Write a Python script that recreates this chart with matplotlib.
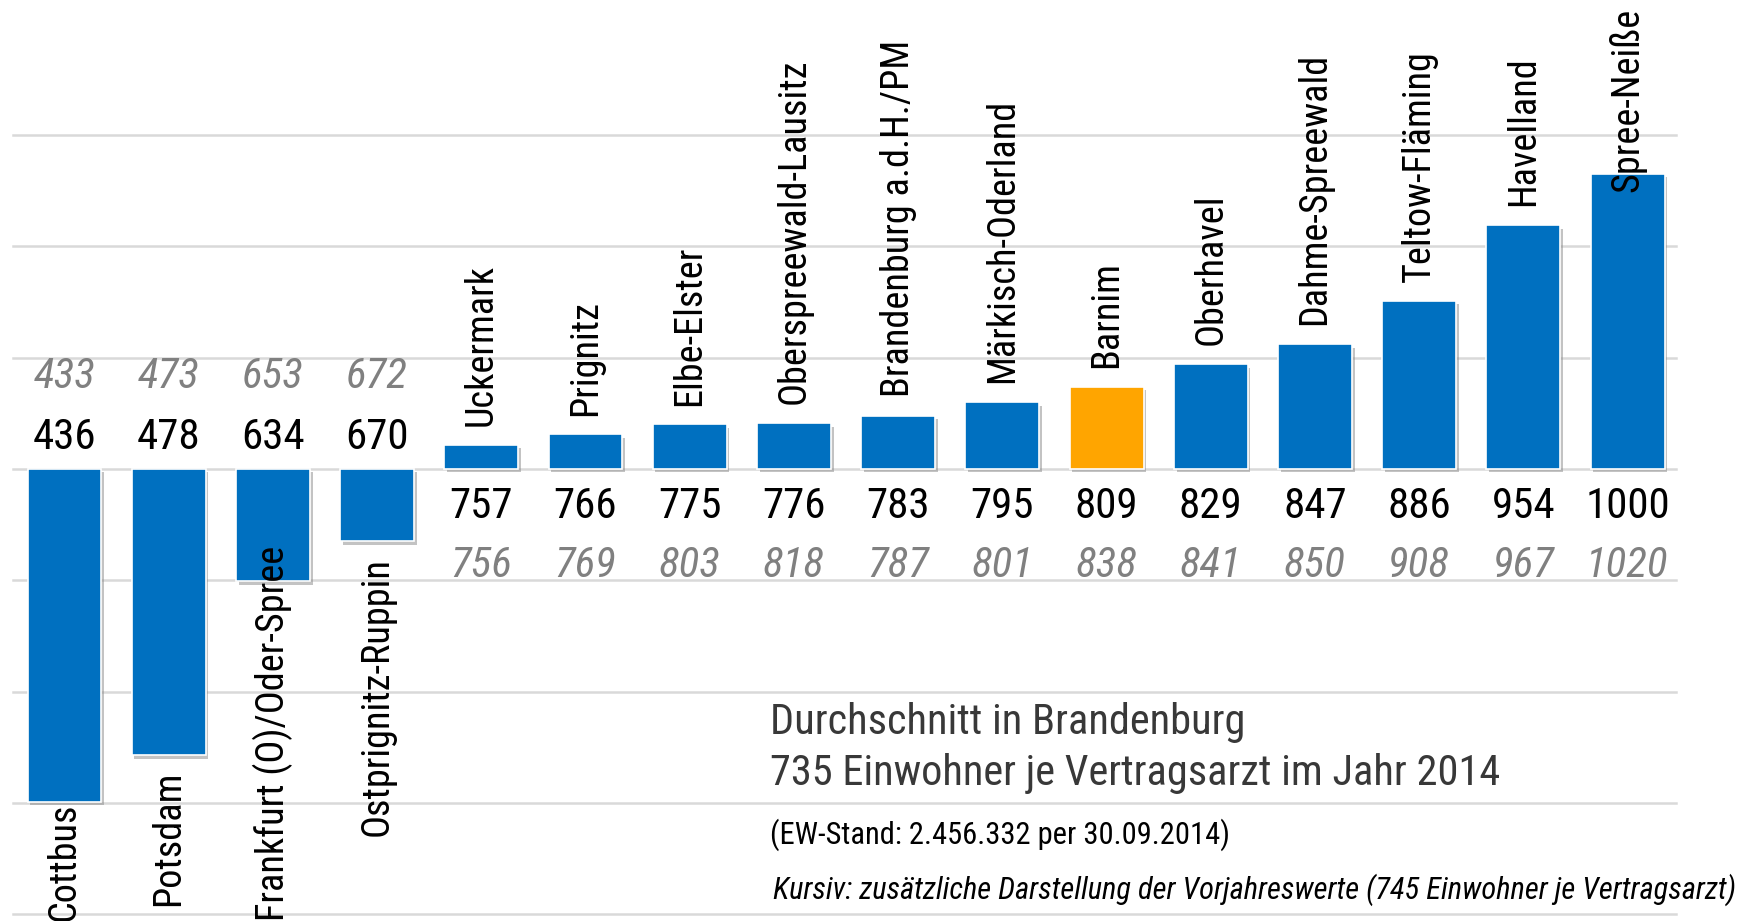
#
# Einwohner je Vertragsarzt in Brandenburg 2014 (Vorjahr kursiv)

import numpy as np
import matplotlib
matplotlib.use("Agg")
import matplotlib.pyplot as plt
import matplotlib.patheffects as pe
from matplotlib import font_manager as fm

# data
kreise = ['Cottbus', 'Potsdam', 'Frankfurt (O)/Oder-Spree', 'Ostprignitz-Ruppin',
          'Uckermark', 'Prignitz', 'Elbe-Elster', 'Oberspreewald-Lausitz',
          'Brandenburg a.d.H./PM', 'Märkisch-Oderland', 'Barnim', 'Oberhavel',
          'Dahme-Spreewald', 'Teltow-Fläming', 'Havelland', 'Spree-Neiße']
ew_2014 = [436, 478, 634, 670, 757, 766, 775, 776, 783, 795, 809, 829, 847, 886, 954, 1000]
ew_2013 = [433, 473, 653, 672, 756, 769, 803, 818, 787, 801, 838, 841, 850, 908, 967, 1020]
durchschnitt = 735
highlight = 'Barnim'

# pick a narrow font that is installed
installed = set(f.name for f in fm.fontManager.ttflist)
narrow = next((f for f in ['Roboto Condensed', 'Archivo Narrow', 'PT Sans Narrow',
                           'Open Sans Condensed', 'IBM Plex Sans Condensed', 'Liberation Sans']
               if f in installed), 'DejaVu Sans')
plt.rcParams['font.family'] = [narrow, 'DejaVu Sans']

blue = '#0070C0'
orange = '#FFA500'

fig = plt.figure(figsize=(17.46, 9.21), dpi=100)
ax = fig.add_axes([0, 0, 1, 1])
ax.set_xlim(-0.619, 16.137)
ax.set_ylim(329.1, 1156.2)
ax.axis('off')

# grid every 100 around the average
for g in np.arange(durchschnitt - 400, durchschnitt + 301, 100):
    ax.axhline(g, xmin=0.0074, xmax=0.96, color='#d9d9d9', lw=1.8, zorder=1)

x = np.arange(len(kreise))
vals = np.array(ew_2014)
colors = [orange if k == highlight else blue for k in kreise]
bars = ax.bar(x, vals - durchschnitt, bottom=durchschnitt, width=0.71,
              color=colors, edgecolor='white', lw=1.2, zorder=3)
for b in bars:
    b.set_path_effects([pe.SimplePatchShadow(offset=(2, -2.5), shadow_rgbFace='#888888', alpha=0.5),
                        pe.Normal()])

# value labels
name_texts = []
for i, (k, v, v0) in enumerate(zip(kreise, ew_2014, ew_2013)):
    if v < durchschnitt:
        y_cur, y_prev = durchschnitt + 28, durchschnitt + 83
        t = ax.text(i, v - 14, k, rotation=90, ha='center', va='top', fontsize=27.5, zorder=5)
    else:
        y_cur, y_prev = durchschnitt - 34, durchschnitt - 87
        t = ax.text(i, v + 17, k, rotation=90, ha='center', va='bottom', fontsize=27.5, zorder=5)
    name_texts.append(t)
    ax.text(i, y_cur, str(v), ha='center', va='center', fontsize=31, color='black', zorder=5)
    ax.text(i, y_prev, str(v0), ha='center', va='center', fontsize=31, color='#808080',
            style='italic', zorder=5)

# keep the rotated names inside the figure
fig.canvas.draw()
renderer = fig.canvas.get_renderer()
H = fig.bbox.height
inv = ax.transData.inverted()
for t in name_texts:
    bb = t.get_window_extent(renderer)
    shift = 0
    if bb.y0 < 0:
        shift = -bb.y0
    elif bb.y1 > H - 8:
        shift = (H - 8) - bb.y1
    if shift:
        px = ax.transData.transform(t.get_position())
        t.set_position(inv.transform((px[0], px[1] + shift)))

# notes
x0 = 770 / 1746
ax.text(x0, 1 - 722 / 921, 'Durchschnitt in Brandenburg', transform=ax.transAxes,
        fontsize=30.5, color='#383838', va='center', ha='left')
ax.text(x0, 1 - 773 / 921, '735 Einwohner je Vertragsarzt im Jahr 2014', transform=ax.transAxes,
        fontsize=30.5, color='#383838', va='center', ha='left')
ax.text(x0, 1 - 835 / 921, '(EW-Stand: 2.456.332 per 30.09.2014)', transform=ax.transAxes,
        fontsize=22, color='black', va='center', ha='left')
ax.text(x0 + 0.002, 1 - 890 / 921,
        'Kursiv: zusätzliche Darstellung der Vorjahreswerte (745 Einwohner je Vertragsarzt)',
        transform=ax.transAxes, fontsize=22, color='black', va='center', ha='left', style='italic')

fig.savefig('out.png', dpi=100)
